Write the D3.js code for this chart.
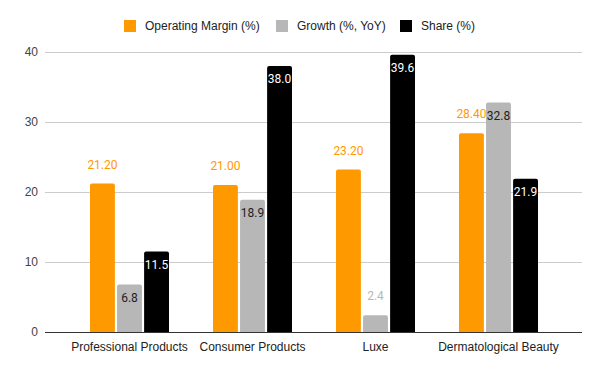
<!DOCTYPE html>
<html>
<head>
<meta charset="utf-8">
<script src="https://cdn.jsdelivr.net/npm/d3@7"></script>
<style>
  body { margin: 0; background: #fff; }
  svg { display: block; }
</style>
</head>
<body>
<svg id="chart" width="600" height="371"></svg>
<script>
// data
var categories = ["Professional Products", "Consumer Products", "Luxe", "Dermatological Beauty"];
var seriesNames = ["Operating Margin (%)", "Growth (%, YoY)", "Share (%)"];
var operatingMargin = [21.2, 21.0, 23.2, 28.4];
var growth = [6.8, 18.9, 2.4, 32.8];
var share = [11.5, 38.0, 39.6, 21.9];
var yTicks = [0, 10, 20, 30, 40];

var colors = ["#ff9900", "#b7b7b7", "#000000"];
var series = [operatingMargin, growth, share];

var width = 600, height = 371;
var svg = d3.select("#chart");

// scales
var y = d3.scaleLinear().domain([0, 40]).range([332, 52]);
var x = d3.scaleBand().domain(categories).range([68, 560]);
var inner = d3.scaleBand().domain([0, 1, 2]).range([0, 79]).paddingInner(0.08);

// gridlines
svg.append("g").selectAll("line")
   .data(yTicks.filter(function(d){ return d > 0; })).enter()
   .append("line")
   .attr("x1", 45).attr("x2", 582)
   .attr("y1", function(d){ return y(d); })
   .attr("y2", function(d){ return y(d); })
   .attr("stroke", "#cccccc")
   .attr("stroke-width", 1)
   .attr("shape-rendering", "crispEdges");

// y tick labels
svg.append("g").selectAll("text")
   .data(yTicks).enter()
   .append("text")
   .attr("x", 38)
   .attr("y", function(d){ return y(d); })
   .attr("dy", "0.35em")
   .attr("text-anchor", "end")
   .attr("font-family", "Arial, 'Liberation Sans', sans-serif")
   .attr("font-size", 12)
   .attr("fill", "#444")
   .text(function(d){ return d; });

// rounded-top bar path
function barPath(x0, w, top, bottom){
  var r = Math.min(2, (bottom - top));
  return "M" + x0 + "," + bottom +
         "V" + (top + r) +
         "Q" + x0 + "," + top + " " + (x0 + r) + "," + top +
         "H" + (x0 + w - r) +
         "Q" + (x0 + w) + "," + top + " " + (x0 + w) + "," + (top + r) +
         "V" + bottom + "Z";
}

var groups = svg.append("g").selectAll("g")
   .data(categories).enter()
   .append("g")
   .attr("transform", function(d){ return "translate(" + (x(d) + (x.bandwidth() - 79) / 2) + ",0)"; });

groups.selectAll("path")
   .data(function(d, i){ return series.map(function(s, j){ return {s: j, v: s[i]}; }); })
   .enter()
   .append("path")
   .attr("d", function(d){ return barPath(inner(d.s), inner.bandwidth(), y(d.v), y(0)); })
   .attr("fill", function(d){ return colors[d.s]; });

// data labels
groups.selectAll("text")
   .data(function(d, i){ return series.map(function(s, j){ return {s: j, v: s[i]}; }); })
   .enter()
   .append("text")
   .attr("x", function(d){ return inner(d.s) + inner.bandwidth() / 2; })
   .attr("y", function(d){
     var outside = d.s === 0 || d.v < 5;
     return outside ? y(d.v) - 19 : y(d.v) + 13;
   })
   .attr("dy", "0.35em")
   .attr("text-anchor", "middle")
   .attr("font-family", "Roboto, sans-serif")
   .attr("font-size", 12)
   .attr("fill", function(d){
     if (d.s === 0) return "#ff9900";
     if (d.v < 5) return "#b7b7b7";
     if (d.s === 2) return "#ffffff";
     return "#222222";
   })
   .text(function(d){ return d.s === 0 ? d.v.toFixed(2) : d.v.toFixed(1); });

// baseline
svg.append("line")
   .attr("x1", 45).attr("x2", 582)
   .attr("y1", y(0)).attr("y2", y(0))
   .attr("stroke", "#333333")
   .attr("stroke-width", 1)
   .attr("shape-rendering", "crispEdges");

// category labels
svg.append("g").selectAll("text")
   .data(categories).enter()
   .append("text")
   .attr("x", function(d){ return x(d) + x.bandwidth() / 2; })
   .attr("y", 351)
   .attr("text-anchor", "middle")
   .attr("font-family", "Arial, 'Liberation Sans', sans-serif")
   .attr("font-size", 12)
   .attr("fill", "#222")
   .text(function(d){ return d; });

// legend
var legendX = [124, 276, 400];
var legend = svg.append("g").selectAll("g")
   .data(seriesNames).enter()
   .append("g")
   .attr("transform", function(d, i){ return "translate(" + legendX[i] + ",20)"; });

legend.append("rect")
   .attr("width", 12).attr("height", 12)
   .attr("fill", function(d, i){ return colors[i]; });

legend.append("text")
   .attr("x", 21).attr("y", 6)
   .attr("dy", "0.35em")
   .attr("font-family", "Arial, 'Liberation Sans', sans-serif")
   .attr("font-size", 12)
   .attr("fill", "#222")
   .text(function(d){ return d; });
</script>
</body>
</html>
